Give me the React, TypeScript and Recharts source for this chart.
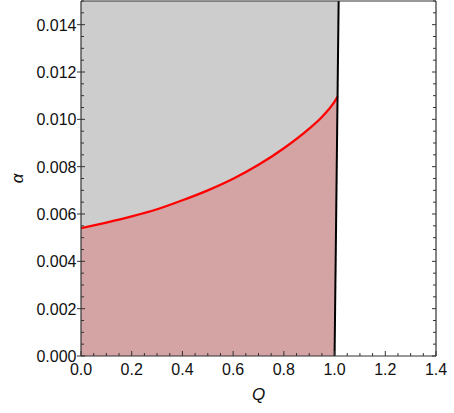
import React from "react";
import { ComposedChart, Area, Line, XAxis, YAxis, Label } from "recharts";

// Red boundary curve alpha(Q)
const qValues = [0, 0.1, 0.2, 0.3, 0.4, 0.5, 0.6, 0.7, 0.8, 0.9, 0.95, 1.0, 1.012];
const alphaValues = [0.0054, 0.00564, 0.0059, 0.0062, 0.00658, 0.007, 0.00749, 0.00808, 0.00878, 0.00961, 0.0101, 0.01075, 0.01096];

// Black (nearly vertical) boundary line
const blackQ = [1.0, 1.016];
const blackAlpha = [0, 0.015];

const xMajorTicks = [0, 0.2, 0.4, 0.6, 0.8, 1.0, 1.2, 1.4];
const yMajorTicks = [0, 0.002, 0.004, 0.006, 0.008, 0.01, 0.012, 0.014];
const xMinorStep = 0.05;
const yMinorStep = 0.0005;

const X_MAX = 1.4;
const Y_MAX = 0.015;

const xTicks = Array.from({ length: Math.round(X_MAX / xMinorStep) + 1 }, (_, i) => +(i * xMinorStep).toFixed(4));
const yTicks = Array.from({ length: Math.round(Y_MAX / yMinorStep) + 1 }, (_, i) => +(i * yMinorStep).toFixed(6));

const isMajor = (v: number, majors: number[]) => majors.some((m) => Math.abs(m - v) < 1e-9);

// Regions
const grayData = [
  { Q: 0, r: [0, Y_MAX] },
  { Q: blackQ[0], r: [blackAlpha[0], Y_MAX] },
  { Q: blackQ[1], r: [blackAlpha[1], Y_MAX] },
];
const lastIdx = qValues.length - 1;
const redAreaData = qValues.map((q, i) => ({
  Q: q,
  r: i === lastIdx ? [alphaValues[i], alphaValues[i]] : [0, alphaValues[i]],
}));
const redLineData = qValues.map((q, i) => ({ Q: q, a: alphaValues[i] }));
const blackData = blackQ.map((q, i) => ({ Q: q, a: blackAlpha[i] }));

const FONT = "'Liberation Sans', Arial, sans-serif";
const AX = "#333";

const BottomTick = (props: any) => {
  const { x, y, payload } = props;
  const major = isMajor(payload.value, xMajorTicks);
  return (
    <g>
      <line x1={x} y1={y} x2={x} y2={y - (major ? 5 : 3)} stroke={AX} strokeWidth={1} />
      {major && (
        <text x={x} y={y + 19} textAnchor="middle" fontSize={16} fontFamily={FONT} fill="#111">
          {payload.value.toFixed(1)}
        </text>
      )}
    </g>
  );
};

const TopTick = (props: any) => {
  const { x, y, payload } = props;
  const major = isMajor(payload.value, xMajorTicks);
  return <line x1={x} y1={y} x2={x} y2={y + (major ? 5 : 3)} stroke={AX} strokeWidth={1} />;
};

const LeftTick = (props: any) => {
  const { x, y, payload } = props;
  const major = isMajor(payload.value, yMajorTicks);
  return (
    <g>
      <line x1={major ? x - 4 : x} y1={y} x2={x + (major ? 4 : 3)} y2={y} stroke={AX} strokeWidth={1} />
      {major && (
        <text x={x - 4.5} y={y + 6} textAnchor="end" fontSize={16} fontFamily={FONT} fill="#111">
          {payload.value.toFixed(3)}
        </text>
      )}
    </g>
  );
};

const RightTick = (props: any) => {
  const { x, y, payload } = props;
  const major = isMajor(payload.value, yMajorTicks);
  return <line x1={x} y1={y} x2={x - (major ? 4 : 3)} y2={y} stroke={AX} strokeWidth={1} />;
};

export default function App() {
  return (
    <div style={{ position: "absolute", left: 0, top: 0, background: "#fff" }}>
      <ComposedChart
        width={454}
        height={413}
        margin={{ top: 0, right: 17, bottom: 56, left: 80 }}
      >
        <XAxis
          dataKey="Q"
          type="number"
          domain={[0, X_MAX]}
          ticks={xTicks}
          interval={0}
          allowDataOverflow
          height={1}
          tickSize={0}
          tickMargin={0}
          tickLine={false}
          axisLine={{ stroke: AX, strokeWidth: 1.2 }}
          tick={<BottomTick />}
        >
          <Label
            content={(p: any) => {
              const vb = p.viewBox;
              return (
                <text x={vb.x + vb.width / 2} y={vb.y + 44} textAnchor="middle" fontSize={17} fontStyle="italic" fontFamily={FONT} fill="#111">
                  Q
                </text>
              );
            }}
          />
        </XAxis>
        <XAxis
          xAxisId="top"
          orientation="top"
          type="number"
          domain={[0, X_MAX]}
          ticks={xTicks}
          interval={0}
          allowDataOverflow
          height={1}
          tickSize={0}
          tickMargin={0}
          tickLine={false}
          axisLine={{ stroke: AX, strokeWidth: 1.2 }}
          tick={<TopTick />}
        />
        <YAxis
          type="number"
          domain={[0, Y_MAX]}
          ticks={yTicks}
          interval={0}
          allowDataOverflow
          width={1}
          tickSize={0}
          tickMargin={0}
          tickLine={false}
          axisLine={{ stroke: AX, strokeWidth: 1.2 }}
          tick={<LeftTick />}
        >
          <Label
            content={(p: any) => {
              const vb = p.viewBox;
              const cx = 17;
              const cy = vb.y + vb.height / 2;
              return (
                <text x={cx} y={cy} transform={`rotate(-90, ${cx}, ${cy})`} textAnchor="middle" dominantBaseline="central" fontSize={17} fontStyle="italic" fontFamily={FONT} fill="#111">
                  α
                </text>
              );
            }}
          />
        </YAxis>
        <YAxis
          yAxisId="right"
          orientation="right"
          type="number"
          domain={[0, Y_MAX]}
          ticks={yTicks}
          interval={0}
          allowDataOverflow
          width={1}
          tickSize={0}
          tickMargin={0}
          tickLine={false}
          axisLine={{ stroke: AX, strokeWidth: 1.2 }}
          tick={<RightTick />}
        />
        <Area
          data={grayData}
          dataKey="r"
          type="linear"
          fill="#cdcdcd"
          fillOpacity={1}
          stroke="none"
          isAnimationActive={false}
          dot={false}
          activeDot={false}
        />
        <Area
          data={redAreaData}
          dataKey="r"
          type="linear"
          fill="#d4a3a3"
          fillOpacity={1}
          stroke="none"
          isAnimationActive={false}
          dot={false}
          activeDot={false}
        />
        <Line
          data={redLineData}
          dataKey="a"
          type="monotone"
          stroke="#ff0000"
          strokeWidth={2.3}
          dot={false}
          activeDot={false}
          isAnimationActive={false}
        />
        <Line
          data={blackData}
          dataKey="a"
          type="linear"
          stroke="#000"
          strokeWidth={2}
          dot={false}
          activeDot={false}
          isAnimationActive={false}
        />
      </ComposedChart>
    </div>
  );
}
